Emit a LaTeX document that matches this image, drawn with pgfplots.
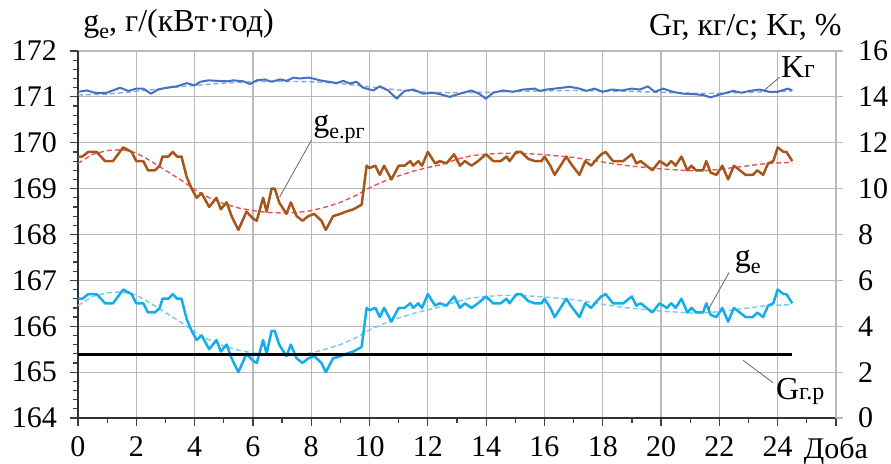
\documentclass[border=0pt]{standalone}
\usepackage{fontspec}
\setmainfont{Liberation Serif}
\newfontfamily\tnr{Liberation Serif}
\usepackage{pgfplots}
\pgfplotsset{compat=1.18}
\definecolor{cBrown}{RGB}{166,86,28}
\definecolor{cCyan}{RGB}{20,172,236}
\definecolor{cBlue}{RGB}{70,112,196}
\definecolor{cRedD}{RGB}{232,84,84}
\definecolor{cCyanD}{RGB}{120,200,240}
\definecolor{cBlueD}{RGB}{140,168,222}
\definecolor{cGrid}{RGB}{185,185,185}
\begin{document}
\begin{tikzpicture}[x=1pt,y=1pt,font=\tnr]
\useasboundingbox (-39,-22.5) rectangle (406.5,209);
\begin{axis}[
  at={(0,0)}, anchor=south west, scale only axis,
  width=379pt, height=183.5pt,
  xmin=0, xmax=26, ymin=164, ymax=172,
  axis x line*=bottom, axis y line*=left,
  axis line style={-, black!80, line width=0.7pt},
  xtick={0,2,...,26},
  xticklabels={0,2,4,6,8,10,12,14,16,18,20,22,24,\raisebox{1.2pt}{Доба}},
  minor xtick={1,3,...,25},
  ytick={164,165,...,172},
  yticklabels={164,165,166,167,168,169,170,171,172},
  minor y tick num=4,
  grid=major, major grid style={cGrid, line width=0.6pt},
  tick align=outside, major tick length=4pt, minor tick length=2.5pt,
  tick style={black!75, line width=0.6pt},
  ticklabel style={font=\tnr\fontsize{15}{16}\selectfont},
  yticklabel style={xshift=-3pt},
  xticklabel style={yshift=-1.8pt},
  clip=false,
]
% red dashed trend (g_e.rg)
\addplot[cRedD, line width=0.7pt, dash pattern=on 2.5pt off 1.5pt] coordinates {
(0,169.55)(0.5,169.75)(1,169.83)(1.5,169.85)(2,169.78)(2.5,169.6)(3,169.4)(3.5,169.2)(4,168.98)(4.5,168.8)(5,168.67)(5.5,168.58)(6,168.52)(6.5,168.48)(7,168.47)(7.5,168.48)(8,168.52)(8.5,168.6)(9,168.7)(9.5,168.84)(10,169.02)(10.5,169.16)(11,169.28)(11.5,169.38)(12,169.46)(12.5,169.53)(13,169.64)(13.5,169.72)(14,169.75)(14.5,169.77)(15,169.77)(15.5,169.76)(16,169.74)(16.5,169.71)(17,169.68)(17.5,169.63)(18,169.58)(18.5,169.53)(19,169.49)(19.5,169.46)(20,169.43)(20.5,169.41)(21,169.39)(21.5,169.39)(22,169.42)(22.5,169.46)(23,169.5)(23.5,169.54)(24,169.56)(24.5,169.57)};
% cyan dashed trend (g_e)
\addplot[cCyanD, line width=0.7pt, dash pattern=on 2.5pt off 1.5pt] coordinates {
(0,166.45)(0.5,166.65)(1,166.73)(1.5,166.75)(2,166.68)(2.5,166.5)(3,166.3)(3.5,166.1)(4,165.88)(4.5,165.7)(5,165.57)(5.5,165.48)(6,165.42)(6.5,165.38)(7,165.37)(7.5,165.38)(8,165.42)(8.5,165.5)(9,165.6)(9.5,165.74)(10,165.92)(10.5,166.06)(11,166.18)(11.5,166.28)(12,166.36)(12.5,166.43)(13,166.54)(13.5,166.62)(14,166.65)(14.5,166.67)(15,166.67)(15.5,166.66)(16,166.64)(16.5,166.61)(17,166.58)(17.5,166.53)(18,166.48)(18.5,166.43)(19,166.39)(19.5,166.36)(20,166.33)(20.5,166.31)(21,166.29)(21.5,166.29)(22,166.32)(22.5,166.36)(23,166.4)(23.5,166.44)(24,166.46)(24.5,166.47)};
% brown g_e.rg
\addplot[cBrown, line width=1.25pt, line join=round] coordinates {
(0,169.7)(0.15,169.7)(0.35,169.8)(0.64,169.8)(0.93,169.6)(1.2,169.6)(1.55,169.9)(1.84,169.8)(2.0,169.6)(2.24,169.6)(2.4,169.4)(2.64,169.4)(2.8,169.5)(2.9,169.7)(3.1,169.7)(3.25,169.8)(3.4,169.7)(3.55,169.7)(3.73,169.25)(3.9,169.0)(4.07,168.8)(4.24,168.9)(4.5,168.6)(4.75,168.8)(4.9,168.55)(5.1,168.7)(5.27,168.4)(5.5,168.1)(5.78,168.5)(6.0,168.35)(6.13,168.3)(6.35,168.8)(6.47,168.5)(6.64,169.0)(6.75,169.0)(6.9,168.7)(7.15,168.45)(7.3,168.7)(7.5,168.4)(7.7,168.3)(7.9,168.4)(8.1,168.45)(8.35,168.3)(8.5,168.1)(8.75,168.4)(9.0,168.45)(9.2,168.5)(9.45,168.55)(9.73,168.65)(9.9,169.5)(10.0,169.45)(10.2,169.5)(10.35,169.3)(10.5,169.5)(10.75,169.2)(11.0,169.5)(11.2,169.5)(11.4,169.6)(11.5,169.5)(11.67,169.6)(11.8,169.5)(12.0,169.8)(12.25,169.55)(12.41,169.6)(12.64,169.55)(12.9,169.75)(13.1,169.5)(13.27,169.6)(13.5,169.5)(13.72,169.6)(14.0,169.75)(14.24,169.6)(14.5,169.6)(14.7,169.7)(14.8,169.6)(15.04,169.8)(15.2,169.8)(15.44,169.65)(15.67,169.6)(15.9,169.6)(16.0,169.7)(16.2,169.5)(16.35,169.3)(16.5,169.45)(16.75,169.7)(16.9,169.55)(17.2,169.3)(17.4,169.6)(17.6,169.5)(17.8,169.65)(17.95,169.75)(18.1,169.8)(18.35,169.6)(18.7,169.6)(19.0,169.75)(19.15,169.55)(19.3,169.6)(19.5,169.5)(19.7,169.4)(19.95,169.6)(20.2,169.5)(20.35,169.6)(20.5,169.5)(20.7,169.7)(20.9,169.4)(21.04,169.5)(21.2,169.4)(21.44,169.4)(21.55,169.6)(21.7,169.35)(21.9,169.3)(22.1,169.5)(22.3,169.2)(22.5,169.5)(22.7,169.4)(22.9,169.3)(23.15,169.3)(23.3,169.4)(23.5,169.3)(23.67,169.55)(23.85,169.6)(24.0,169.9)(24.2,169.8)(24.3,169.8)(24.5,169.6)};
% cyan g_e
\addplot[cCyan, line width=1.25pt, line join=round] coordinates {
(0,166.6)(0.15,166.6)(0.35,166.7)(0.64,166.7)(0.93,166.5)(1.2,166.5)(1.55,166.8)(1.84,166.7)(2.0,166.5)(2.24,166.5)(2.4,166.3)(2.64,166.3)(2.8,166.4)(2.9,166.6)(3.1,166.6)(3.25,166.7)(3.4,166.6)(3.55,166.6)(3.73,166.15)(3.9,165.9)(4.07,165.7)(4.24,165.8)(4.5,165.5)(4.75,165.7)(4.9,165.45)(5.1,165.6)(5.27,165.3)(5.5,165.0)(5.78,165.4)(6.0,165.25)(6.13,165.2)(6.35,165.7)(6.47,165.4)(6.64,165.9)(6.75,165.9)(6.9,165.6)(7.15,165.35)(7.3,165.6)(7.5,165.3)(7.7,165.2)(7.9,165.3)(8.1,165.35)(8.35,165.2)(8.5,165.0)(8.75,165.3)(9.0,165.35)(9.2,165.4)(9.45,165.45)(9.73,165.55)(9.9,166.4)(10.0,166.35)(10.2,166.4)(10.35,166.2)(10.5,166.4)(10.75,166.1)(11.0,166.4)(11.2,166.4)(11.4,166.5)(11.5,166.4)(11.67,166.5)(11.8,166.4)(12.0,166.7)(12.25,166.45)(12.41,166.5)(12.64,166.45)(12.9,166.65)(13.1,166.4)(13.27,166.5)(13.5,166.4)(13.72,166.5)(14.0,166.65)(14.24,166.5)(14.5,166.5)(14.7,166.6)(14.8,166.5)(15.04,166.7)(15.2,166.7)(15.44,166.55)(15.67,166.5)(15.9,166.5)(16.0,166.6)(16.2,166.4)(16.35,166.2)(16.5,166.35)(16.75,166.6)(16.9,166.45)(17.2,166.2)(17.4,166.5)(17.6,166.4)(17.8,166.55)(17.95,166.65)(18.1,166.7)(18.35,166.5)(18.7,166.5)(19.0,166.65)(19.15,166.45)(19.3,166.5)(19.5,166.4)(19.7,166.3)(19.95,166.5)(20.2,166.4)(20.35,166.5)(20.5,166.4)(20.7,166.6)(20.9,166.3)(21.04,166.4)(21.2,166.3)(21.44,166.3)(21.55,166.5)(21.7,166.25)(21.9,166.2)(22.1,166.4)(22.3,166.1)(22.5,166.4)(22.7,166.3)(22.9,166.2)(23.15,166.2)(23.3,166.3)(23.5,166.2)(23.67,166.45)(23.85,166.5)(24.0,166.8)(24.2,166.7)(24.3,166.7)(24.5,166.5)};
% annotations
\draw[black!60, line width=0.4pt] (axis cs:23.55,171.15) -- (axis cs:24.07,171.43);
\node[anchor=base west, inner sep=0pt, font=\tnr\fontsize{16}{18}\selectfont] at (axis cs:24.1,171.43) {K{\fontsize{13}{14}\selectfont г}};
\draw[black!60, line width=0.4pt] (axis cs:8.01,170.06) -- (axis cs:6.92,168.82);
\node[anchor=base west, inner sep=0pt, font=\tnr\fontsize{16}{18}\selectfont] at (axis cs:8.06,170.24) {g\raisebox{-0.22em}{\fontsize{11}{12}\selectfont e.рг}};
\draw[black!60, line width=0.4pt] (axis cs:22.33,167.17) -- (axis cs:21.61,166.35);
\node[anchor=base west, inner sep=0pt, font=\tnr\fontsize{16}{18}\selectfont] at (axis cs:22.52,167.30) {g\raisebox{-0.22em}{\fontsize{11}{12}\selectfont e}};
\draw[black!60, line width=0.4pt] (axis cs:22.81,165.26) -- (axis cs:23.84,164.77);
\node[anchor=base west, inner sep=0pt, font=\tnr\fontsize{16}{18}\selectfont] at (axis cs:23.93,164.41) {G{\fontsize{12}{13}\selectfont г.р}};
\end{axis}
\begin{axis}[
  at={(0,0)}, anchor=south west, scale only axis,
  width=379pt, height=183.5pt,
  xmin=0, xmax=26, ymin=0, ymax=16,
  axis x line=none, axis y line*=right,
  axis line style={-, cGrid, line width=0.6pt},
  ytick={0,2,...,16},
  yticklabels={0,2,4,6,8,10,12,14,16},
  tick align=outside, major tick length=3.5pt,
  tick style={cGrid, line width=0.6pt},
  ticklabel style={font=\tnr\fontsize{15}{16}\selectfont},
  yticklabel style={xshift=4pt},
  clip=false,
]
% K_g trend (dashed)
\addplot[cBlueD, line width=0.7pt, dash pattern=on 2.5pt off 1.5pt] coordinates {
(0,14.08)(1,14.12)(2,14.24)(3,14.38)(4,14.5)(5,14.6)(6,14.66)(7,14.68)(8,14.66)(9,14.58)(10,14.44)(11,14.3)(12,14.2)(13,14.18)(14,14.2)(15,14.24)(16,14.26)(17,14.28)(18,14.26)(19,14.24)(20,14.2)(21,14.16)(22,14.16)(23,14.2)(24,14.24)(24.5,14.26)};
% K_g
\addplot[cBlue, line width=1pt, line join=round] coordinates {
(0,14.22)(0.3,14.28)(0.58,14.18)(0.98,14.18)(1.2,14.28)(1.44,14.4)(1.73,14.26)(2.0,14.36)(2.24,14.36)(2.5,14.14)(2.75,14.32)(3.04,14.4)(3.4,14.46)(3.73,14.6)(4.0,14.5)(4.2,14.66)(4.47,14.72)(4.75,14.7)(5.1,14.68)(5.33,14.72)(5.67,14.68)(5.9,14.56)(6.13,14.72)(6.4,14.76)(6.64,14.66)(6.93,14.76)(7.15,14.7)(7.4,14.84)(7.6,14.8)(7.9,14.84)(8.07,14.8)(8.3,14.72)(8.6,14.66)(8.87,14.6)(9.1,14.7)(9.33,14.58)(9.55,14.66)(9.78,14.4)(10.13,14.28)(10.35,14.46)(10.64,14.28)(10.93,13.92)(11.2,14.26)(11.5,14.32)(11.84,14.14)(12.18,14.18)(12.41,14.12)(12.75,14.0)(13.1,14.14)(13.5,14.28)(13.78,14.12)(13.99,13.92)(14.24,14.18)(14.58,14.28)(14.92,14.22)(15.27,14.32)(15.67,14.36)(15.84,14.26)(16.07,14.32)(16.35,14.36)(16.87,14.44)(17.2,14.36)(17.44,14.26)(17.72,14.36)(18.0,14.22)(18.3,14.32)(18.64,14.28)(19.0,14.36)(19.27,14.32)(19.55,14.46)(19.78,14.22)(20.07,14.36)(20.41,14.22)(20.75,14.14)(21.1,14.12)(21.44,14.08)(21.7,13.98)(21.95,14.08)(22.24,14.18)(22.47,14.26)(22.75,14.18)(23.04,14.26)(23.38,14.32)(23.72,14.22)(24.0,14.22)(24.35,14.36)(24.5,14.28)};
% G_g.p
\addplot[black, line width=1.5pt] coordinates {(0,2.78)(24.5,2.78)};
\end{axis}
\node[anchor=base west, inner sep=0pt, font=\tnr\fontsize{16}{18}\selectfont] at (2.5,193.2) {g\raisebox{-0.22em}{\fontsize{11}{12}\selectfont e}, г/(кВт·год)};
\node[anchor=base east, inner sep=0pt, font=\tnr\fontsize{16}{18}\selectfont] at (382,191.2) {Gг, кг/с; Kг, \%};
\end{tikzpicture}
\end{document}
